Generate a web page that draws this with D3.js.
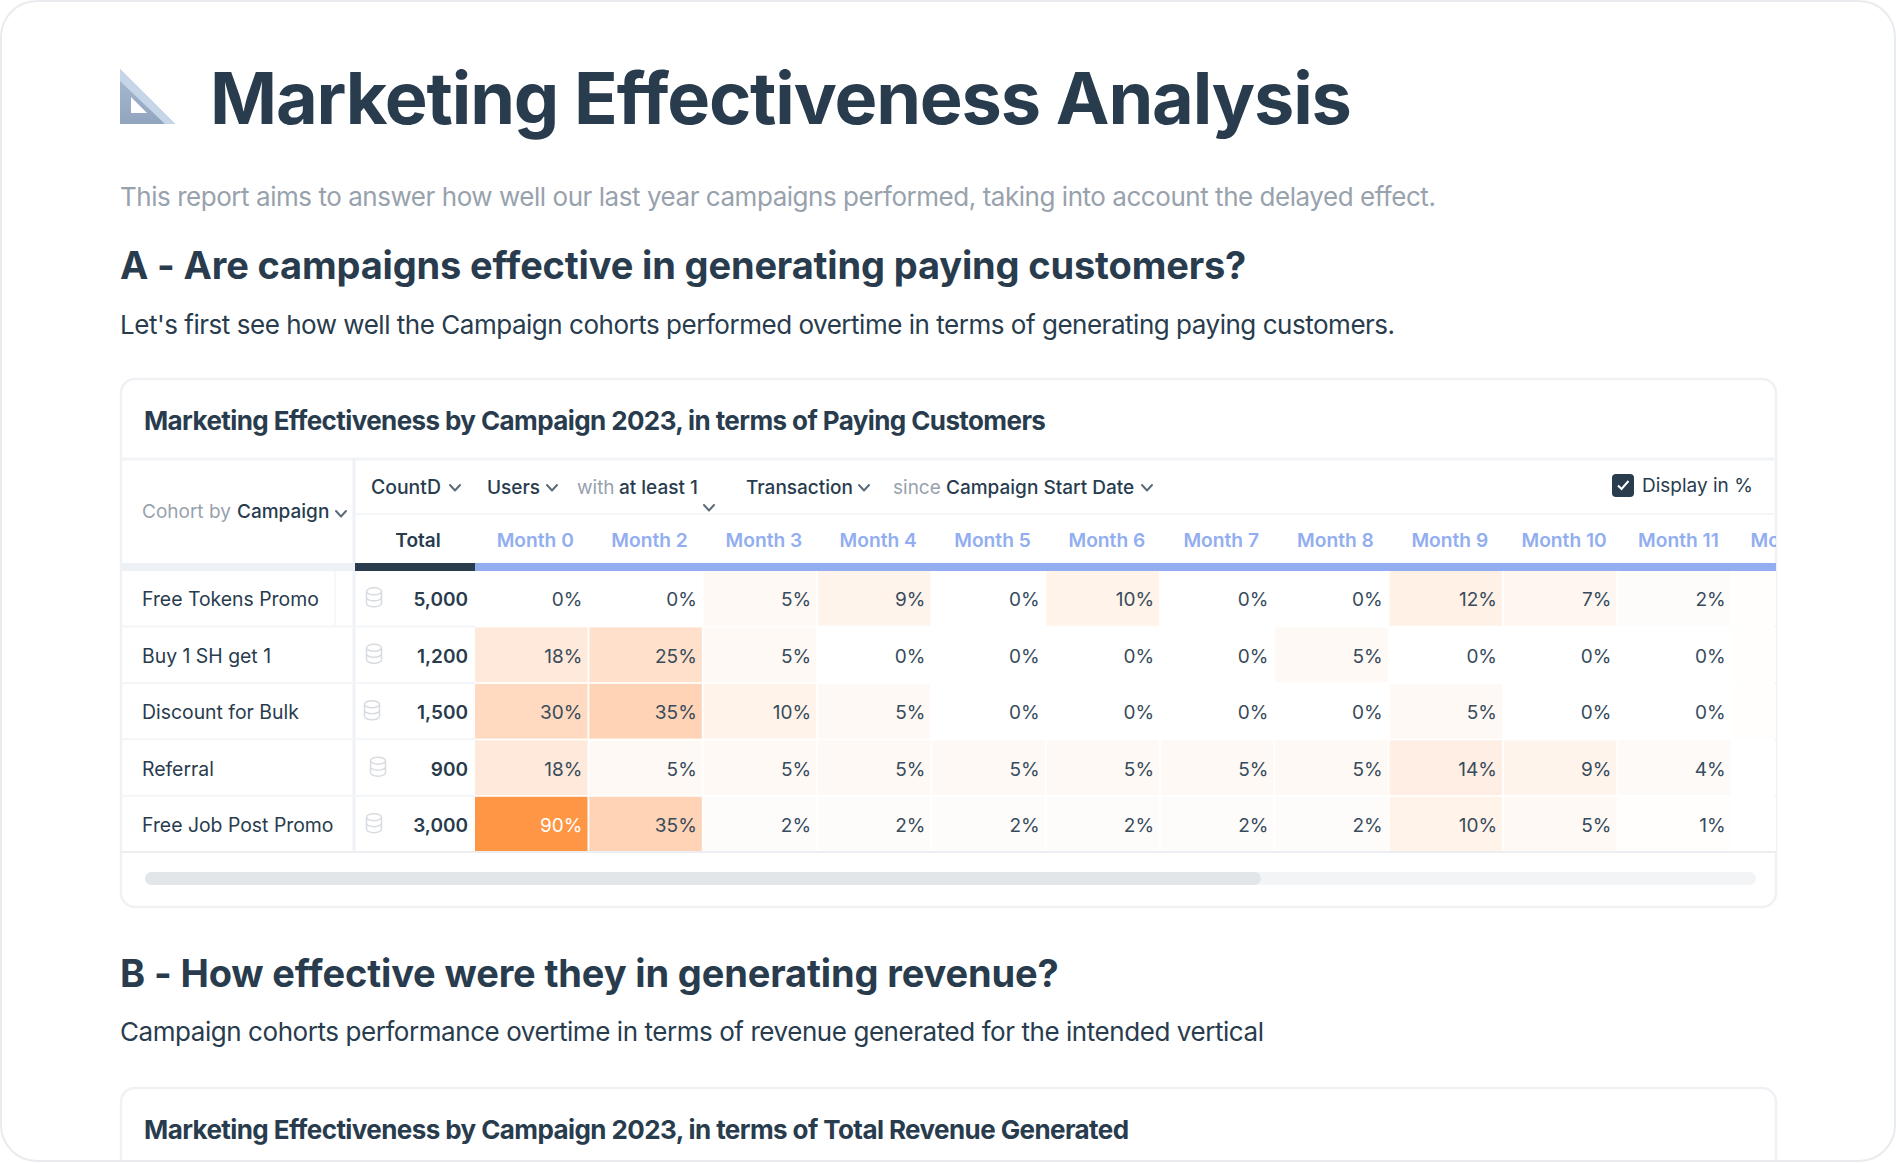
<!DOCTYPE html>
<html>
<head>
<meta charset="utf-8">
<script src="https://cdn.jsdelivr.net/npm/d3@7"></script>
<style>
  html, body { margin: 0; padding: 0; background: #fff; }
  svg { display: block; }
  text { font-family: Inter, sans-serif; }
</style>
</head>
<body>
<svg id="chart" width="1896" height="1163"></svg>
<script>
const months = ['Month 0', 'Month 2', 'Month 3', 'Month 4', 'Month 5', 'Month 6', 'Month 7', 'Month 8', 'Month 9', 'Month 10', 'Month 11', 'Month 12'];
const campaigns = ['Free Tokens Promo', 'Buy 1 SH get 1', 'Discount for Bulk', 'Referral', 'Free Job Post Promo'];
const totals = [5000, 1200, 1500, 900, 3000];
const freeTokens = [0, 0, 5, 9, 0, 10, 0, 0, 12, 7, 2, 1];
const buyOne = [18, 25, 5, 0, 0, 0, 0, 5, 0, 0, 0, 1];
const discountBulk = [30, 35, 10, 5, 0, 0, 0, 0, 5, 0, 0, 1];
const referral = [18, 5, 5, 5, 5, 5, 5, 5, 14, 9, 4, 0];
const freeJobPost = [90, 35, 2, 2, 2, 2, 2, 2, 10, 5, 1, 0];
const rows = [freeTokens, buyOne, discountBulk, referral, freeJobPost];

const dark = '#283c4e', cellText = '#374b5c', grey = '#98a2ac', blue = '#92aef0', line = '#f1f3f6';

const svg = d3.select('#chart');

const x = d3.scaleBand().domain(months).range([475, 1845]).paddingInner(0.016).paddingOuter(0);
const y = d3.scaleBand().domain(campaigns).range([571, 851.5]).paddingInner(0.03).paddingOuter(0);
const color = d3.scaleLinear()
  .domain([0, 2, 5, 10, 18, 35, 90])
  .range(['#ffffff', '#fefcfa', '#fef9f5', '#fff3ea', '#ffe9db', '#ffd3b5', '#ff9645']);

const defs = svg.append('defs');
defs.append('clipPath').attr('id', 'headerClip')
  .append('rect').attr('x', 351).attr('y', -40).attr('width', 1421).attr('height', 60);
defs.append('clipPath').attr('id', 'cellClip')
  .append('rect').attr('x', 355).attr('y', 571).attr('width', 1421).attr('height', 282);
const grad = defs.append('linearGradient').attr('id', 'squareFill').attr('x1', 0).attr('x2', 0).attr('y1', 0).attr('y2', 1);
grad.append('stop').attr('offset', 0).attr('stop-color', '#a9bbd3');
grad.append('stop').attr('offset', 1).attr('stop-color', '#92a5bf');

function label(g, str, px, py, size, weight, fill, anchor, spacing) {
  return g.append('text')
    .attr('x', px).attr('y', py)
    .attr('font-size', size).attr('font-weight', weight)
    .attr('fill', fill).attr('text-anchor', anchor || 'start')
    .attr('letter-spacing', spacing || 0)
    .text(str);
}

function chevron(g, cx, cy) {
  g.append('path')
    .attr('d', `M${cx - 5},${cy - 3}L${cx},${cy + 2.5}L${cx + 5},${cy - 3}`)
    .attr('fill', 'none').attr('stroke', '#5c6c7a').attr('stroke-width', 2)
    .attr('stroke-linecap', 'round').attr('stroke-linejoin', 'round');
}

// page frame
svg.append('rect').attr('x', 1).attr('y', 1).attr('width', 1894).attr('height', 1160).attr('rx', 36)
  .attr('fill', '#fff').attr('stroke', '#e9ebee').attr('stroke-width', 2);

// set square icon
const icon = svg.append('g');
icon.append('path')
  .attr('d', 'M120,69L175,124H120Z M131,97V113H147Z')
  .attr('fill', 'url(#squareFill)').attr('fill-rule', 'evenodd');
icon.append('path').attr('d', 'M120,69L175,124H165L120,81Z').attr('fill', '#c6d6e8');

// cards
const cards = svg.append('g').attr('fill', 'none').attr('stroke', '#eff1f4').attr('stroke-width', 2.5);
cards.append('rect').attr('x', 121).attr('y', 379).attr('width', 1655).attr('height', 528).attr('rx', 14).attr('fill', '#fff');
cards.append('path').attr('d', 'M121,1160V1102a14,14 0 0 1 14,-14H1762a14,14 0 0 1 14,14V1160');

// headings
const head = svg.append('g');
label(head, 'Marketing Effectiveness Analysis', 210, 124, 72, 700, dark, 'start', -1.15);
label(head, 'This report aims to answer how well our last year campaigns performed, taking into account the delayed effect.', 120, 205.5, 26, 400, grey, 'start', -0.46);
label(head, 'A - Are campaigns effective in generating paying customers?', 120, 279, 38, 700, dark, 'start', -0.15);
label(head, "Let's first see how well the Campaign cohorts performed overtime in terms of generating paying customers.", 120, 334, 26, 400, dark, 'start', -0.477);
label(head, 'B - How effective were they in generating revenue?', 120, 987, 38, 700, dark, 'start', -0.13);
label(head, 'Campaign cohorts performance overtime in terms of revenue generated for the intended vertical', 120, 1041, 26, 400, dark, 'start', -0.44);
label(head, 'Marketing Effectiveness by Campaign 2023, in terms of Paying Customers', 144, 430, 26, 700, dark, 'start', -0.6);
label(head, 'Marketing Effectiveness by Campaign 2023, in terms of Total Revenue Generated', 144, 1139, 26, 700, dark, 'start', -0.59);

// table chrome
const chrome = svg.append('g');
chrome.append('line').attr('x1', 121).attr('x2', 1776).attr('y1', 459).attr('y2', 459).attr('stroke', line).attr('stroke-width', 3);
chrome.append('line').attr('x1', 355).attr('x2', 1776).attr('y1', 514).attr('y2', 514).attr('stroke', '#f5f6f8').attr('stroke-width', 2);
chrome.append('line').attr('x1', 354).attr('x2', 354).attr('y1', 459).attr('y2', 851).attr('stroke', '#eef1f5').attr('stroke-width', 3);
chrome.append('rect').attr('x', 121).attr('y', 563).attr('width', 232).attr('height', 8).attr('fill', '#edf0f5');
chrome.append('rect').attr('x', 355).attr('y', 563).attr('width', 120).attr('height', 8).attr('fill', dark);
chrome.append('rect').attr('x', 475).attr('y', 563).attr('width', 1301).attr('height', 8).attr('fill', blue);
chrome.append('line').attr('x1', 335).attr('x2', 335).attr('y1', 571).attr('y2', 626).attr('stroke', '#f5f6f8').attr('stroke-width', 1.5);

// filter bar
const bar = svg.append('g');
label(bar, 'Cohort by', 142, 518, 19, 400, grey);
label(bar, 'Campaign', 237, 518, 19, 500, dark);
chevron(bar, 341, 514);
label(bar, 'CountD', 371, 494, 19.4, 500, dark);
chevron(bar, 455, 488);
label(bar, 'Users', 487, 494, 19, 500, dark);
chevron(bar, 552, 488);
label(bar, 'with', 577, 494, 19, 400, grey);
label(bar, 'at least 1', 619, 494, 19, 500, dark);
chevron(bar, 709, 508);
label(bar, 'Transaction', 746, 494, 19, 500, dark);
chevron(bar, 864, 488);
label(bar, 'since', 893, 494, 19, 400, grey);
label(bar, 'Campaign Start Date', 946, 494, 19, 500, dark);
chevron(bar, 1147, 488);
bar.append('rect').attr('x', 1612).attr('y', 474).attr('width', 22).attr('height', 23).attr('rx', 4).attr('fill', dark);
bar.append('path').attr('d', 'M1618,485.5l3.5,3.5l7,-8').attr('fill', 'none').attr('stroke', '#fff').attr('stroke-width', 2);
label(bar, 'Display in %', 1642, 492, 19, 400, dark);

// column headers
label(bar, 'Total', 418, 547, 19, 600, dark, 'middle');
const headerAxis = d3.axisTop(x).tickSize(0).tickPadding(0);
svg.append('g').attr('clip-path', 'url(#headerClip)')
  .attr('transform', 'translate(4,547)')
  .call(headerAxis)
  .call(g => g.select('.domain').remove())
  .call(g => g.selectAll('text')
    .attr('font-family', 'Inter, sans-serif').attr('font-size', 19.2).attr('font-weight', 600)
    .attr('fill', blue).attr('dy', 0));

// heatmap cells
const body = svg.append('g');
const rowData = campaigns.map((name, i) => ({ name, total: totals[i], values: rows[i] }));
const cells = body.append('g').attr('clip-path', 'url(#cellClip)');
const rowG = cells.selectAll('g').data(rowData).join('g')
  .attr('transform', d => `translate(0,${y(d.name)})`);
const cell = rowG.selectAll('g').data(d => d.values.map((v, i) => ({ v, month: months[i] }))).join('g')
  .attr('transform', d => `translate(${x(d.month)},0)`);
cell.append('rect').attr('width', x.bandwidth()).attr('height', y.bandwidth()).attr('fill', d => color(d.v));
cell.append('text')
  .attr('x', x.bandwidth() - 5).attr('y', y.bandwidth() / 2 + 8)
  .attr('text-anchor', 'end').attr('font-size', 19)
  .attr('fill', d => d.v >= 90 ? '#fff' : cellText)
  .text(d => d.v + '%');

// row labels, totals and icons
const iconShift = [0, 0, -2, 4, 0];
const labels = body.selectAll('g.row').data(rowData).join('g').attr('class', 'row')
  .attr('transform', d => `translate(0,${y(d.name)})`);
labels.append('text').attr('x', 142).attr('y', y.bandwidth() / 2 + 8)
  .attr('font-size', 19.4).attr('fill', dark).text(d => d.name);
labels.append('text').attr('x', 468).attr('y', y.bandwidth() / 2 + 8)
  .attr('text-anchor', 'end').attr('font-size', 19).attr('font-weight', 600).attr('fill', dark)
  .text(d => d3.format(',')(d.total));
labels.append('path')
  .attr('transform', (d, i) => `translate(${374 + iconShift[i]},${y.bandwidth() / 2 - 1})`)
  .attr('d', 'M-7.5,-6a7.5,3.5 0 0 1 15,0v12a7.5,3.5 0 0 1 -15,0Z M-7.5,-6a7.5,3.5 0 0 0 15,0 M-7.5,0a7.5,3.5 0 0 0 15,0')
  .attr('fill', 'none').attr('stroke', '#d8dbdf').attr('stroke-width', 1.5);

// row separators
body.selectAll('line.sep').data(campaigns.slice(1)).join('line').attr('class', 'sep')
  .attr('x1', 121).attr('x2', 475)
  .attr('y1', d => y(d) - 1).attr('y2', d => y(d) - 1)
  .attr('stroke', '#f3f5f8').attr('stroke-width', 2);
body.append('line').attr('x1', 121).attr('x2', 1776).attr('y1', 852).attr('y2', 852).attr('stroke', '#eceef1').attr('stroke-width', 2);

// scrollbar
const scroll = svg.append('g');
scroll.append('rect').attr('x', 145).attr('y', 872).attr('width', 1611).attr('height', 13).attr('rx', 6.5).attr('fill', '#f3f4f6');
scroll.append('rect').attr('x', 145).attr('y', 872).attr('width', 1116).attr('height', 13).attr('rx', 6.5).attr('fill', '#e2e6e8');
</script>
</body>
</html>
